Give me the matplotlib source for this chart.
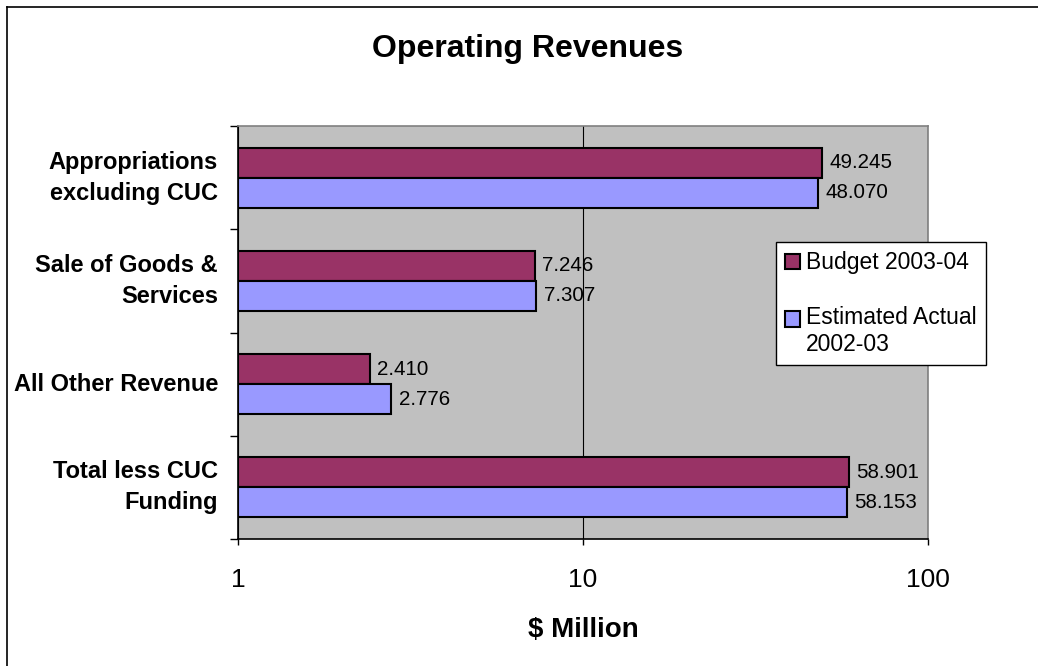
import numpy as np
import matplotlib.pyplot as plt
from matplotlib.lines import Line2D
from matplotlib.patches import Rectangle
from matplotlib.legend_handler import HandlerPatch

plt.rcParams['font.family'] = ['Liberation Sans', 'DejaVu Sans']

# DATA
categories = ['Appropriations\nexcluding CUC', 'Sale of Goods &\nServices',
              'All Other Revenue', 'Total less CUC\nFunding']
budget = [49.245, 7.246, 2.410, 58.901]
estimated = [48.070, 7.307, 2.776, 58.153]
series_names = ['Budget 2003-04', 'Estimated Actual\n2002-03']
xticks = [1, 10, 100]

fig = plt.figure(figsize=(10.38, 6.66), dpi=100)
ax = fig.add_axes([0.2293, 0.1907, 0.6647, 0.6201])

# chart border (only left and top edge visible)
fig.lines.append(Line2D([0.0067, 0.0067], [0, 0.9895], transform=fig.transFigure,
                        color='black', linewidth=1.2))
fig.lines.append(Line2D([0.0067, 1], [0.9895, 0.9895], transform=fig.transFigure,
                        color='black', linewidth=1.2))

n = len(categories)
pos = np.arange(n)[::-1]  # first category on top
h = 0.29
ax.set_facecolor('#C0C0C0')
b1 = ax.barh(pos + h / 2, np.array(budget) - 1, height=h, left=1, color='#993366',
             edgecolor='black', linewidth=1.5, label=series_names[0], zorder=3)
b2 = ax.barh(pos - h / 2, np.array(estimated) - 1, height=h, left=1, color='#9999FF',
             edgecolor='black', linewidth=1.5, label=series_names[1], zorder=3)

# VALUE LABELS
for y0, vals in ((pos + h / 2, budget), (pos - h / 2, estimated)):
    for yy, v in zip(y0, vals):
        ax.annotate('%.3f' % v, (v, yy), xytext=(5.5, 0), textcoords='offset points',
                    va='center', ha='left', fontsize=14.8, zorder=4)

ax.set_xscale('log')
ax.set_xlim(1, 100)
ax.set_ylim(-0.5, n - 0.5)
ax.set_xticks(xticks)
ax.set_xticklabels([str(t) for t in xticks], fontsize=19)
ax.xaxis.set_minor_locator(plt.NullLocator())
ax.tick_params(axis='x', direction='out', length=4.5, width=1, pad=16.5)
ax.grid(axis='x', which='major', color='black', linewidth=0.8, zorder=1)

ax.set_yticks(np.arange(n + 1) - 0.5, minor=False)
ax.set_yticklabels([])
ax.set_yticks(pos, minor=True)
ax.set_yticklabels(categories, minor=True, fontsize=17, fontweight='bold',
                   ha='right', va='center', linespacing=1.45)
ax.tick_params(axis='y', which='major', direction='out', length=5.5, width=1)
ax.tick_params(axis='y', which='minor', length=0, pad=14.4)

for side in ['top', 'right']:
    ax.spines[side].set_color('#808080')
    ax.spines[side].set_linewidth(1.2)
for side in ['left', 'bottom']:
    ax.spines[side].set_color('black')
    ax.spines[side].set_linewidth(1.2)

ax.set_xlabel('$ Million', fontsize=20, fontweight='bold')
ax.xaxis.set_label_coords(0.5, -0.2373)
ax.xaxis.label.set_va('baseline')
fig.text(0.508, 0.9144, 'Operating Revenues', ha='center', va='baseline',
         fontsize=23, fontweight='bold')


# LEGEND: handle of the two-line entry sits on its first line
def top_patch(legend, orig_handle, xdescent, ydescent, width, height, fontsize):
    shift = 9.4 if orig_handle is b2.patches[0] else 0
    return Rectangle((-xdescent, -ydescent + shift), width, height)


hp = HandlerPatch(patch_func=top_patch)
leg = ax.legend([b1.patches[0], b2.patches[0]], series_names,
                handler_map={b1.patches[0]: hp, b2.patches[0]: hp},
                loc='upper left', bbox_to_anchor=(0.78, 0.719), fontsize=16.5,
                frameon=True, fancybox=False, framealpha=1, edgecolor='black',
                handlelength=0.65, handleheight=0.65, handletextpad=0.25,
                labelspacing=1.4, borderpad=0.4, borderaxespad=0)
leg.get_frame().set_linewidth(1)
leg.get_texts()[1].set_linespacing(1.2)
leg.set_zorder(5)

fig.savefig('out.png', dpi=100)
